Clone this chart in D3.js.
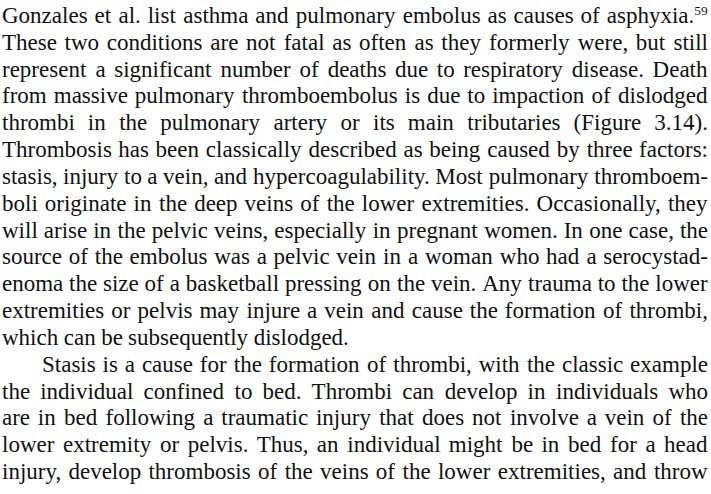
<!DOCTYPE html>
<html>
<head>
<meta charset="utf-8">
<script src="https://cdn.jsdelivr.net/npm/d3@7"></script>
<style>
  body { margin: 0; background: #fff; }
  text { font-family: "Liberation Serif", "DejaVu Serif", serif; fill: #111; }
</style>
</head>
<body>
<div class="page"></div>
<script>
// Page text, one entry per printed line
const lines = [
  "Gonzales et al. list asthma and pulmonary embolus as causes of asphyxia.",
  "These two conditions are not fatal as often as they formerly were, but still",
  "represent a significant number of deaths due to respiratory disease. Death",
  "from massive pulmonary thromboembolus is due to impaction of dislodged",
  "thrombi in the pulmonary artery or its main tributaries (Figure 3.14).",
  "Thrombosis has been classically described as being caused by three factors:",
  "stasis, injury to a vein, and hypercoagulability. Most pulmonary thromboem-",
  "boli originate in the deep veins of the lower extremities. Occasionally, they",
  "will arise in the pelvic veins, especially in pregnant women. In one case, the",
  "source of the embolus was a pelvic vein in a woman who had a serocystad-",
  "enoma the size of a basketball pressing on the vein. Any trauma to the lower",
  "extremities or pelvis may injure a vein and cause the formation of thrombi,",
  "which can be subsequently dislodged.",
  "Stasis is a cause for the formation of thrombi, with the classic example",
  "the individual confined to bed. Thrombi can develop in individuals who",
  "are in bed following a traumatic injury that does not involve a vein of the",
  "lower extremity or pelvis. Thus, an individual might be in bed for a head",
  "injury, develop thrombosis of the veins of the lower extremities, and throw"
];
// superscript note marks, keyed by line index
const notes = [{line: 0, mark: "59"}];
// lines that end a paragraph (not justified) and lines that start one (indented)
const paraEnds = [12];
const paraStarts = [13];

const width = 711, height = 494;
const margin = ({top: 23, right: 3, bottom: 15, left: 2});
const fontSize = 23;
const minGap = 4.5;
const indent = 40;

const svg = d3.select(".page").append("svg")
    .attr("width", width)
    .attr("height", height);

// baseline of each line
const yScale = d3.scaleLinear()
    .domain([0, lines.length - 1])
    .range([margin.top, height - margin.bottom]);

lines.forEach((line, i) => {
    const g = svg.append("g")
        .attr("class", "line")
        .attr("transform", "translate(0," + yScale(i) + ")");
    const words = line.split(" ");
    const note = notes.find(n => n.line === i);
    const nodes = g.selectAll("text")
        .data(words)
        .enter()
        .append("text")
        .attr("font-size", fontSize)
        .text(d => d);
    if (note) {
        d3.select(nodes.nodes()[words.length - 1])
            .append("tspan")
            .attr("font-size", fontSize * 0.58)
            .attr("dy", -fontSize * 0.36)
            .text(note.mark);
    }
    const left = margin.left + (paraStarts.includes(i) ? indent : 0);
    const right = width - margin.right;
    const raw = nodes.nodes().map(n => n.getBBox().width);
    const isLast = paraEnds.includes(i) || words.length < 2;
    // squeeze a tight line a little so the spaces never vanish
    let sx = 1;
    const room = right - left - minGap * (words.length - 1);
    if (!isLast && d3.sum(raw) > room) sx = room / d3.sum(raw);
    const widths = raw.map(w => w * sx);
    const gap = isLast
        ? fontSize * 0.22
        : (right - left - d3.sum(widths)) / (words.length - 1);
    let x = left;
    nodes.each(function(d, j) {
        d3.select(this).attr("transform", "translate(" + x + ",0) scale(" + sx + ",1)");
        x += widths[j] + gap;
    });
});
</script>
</body>
</html>
